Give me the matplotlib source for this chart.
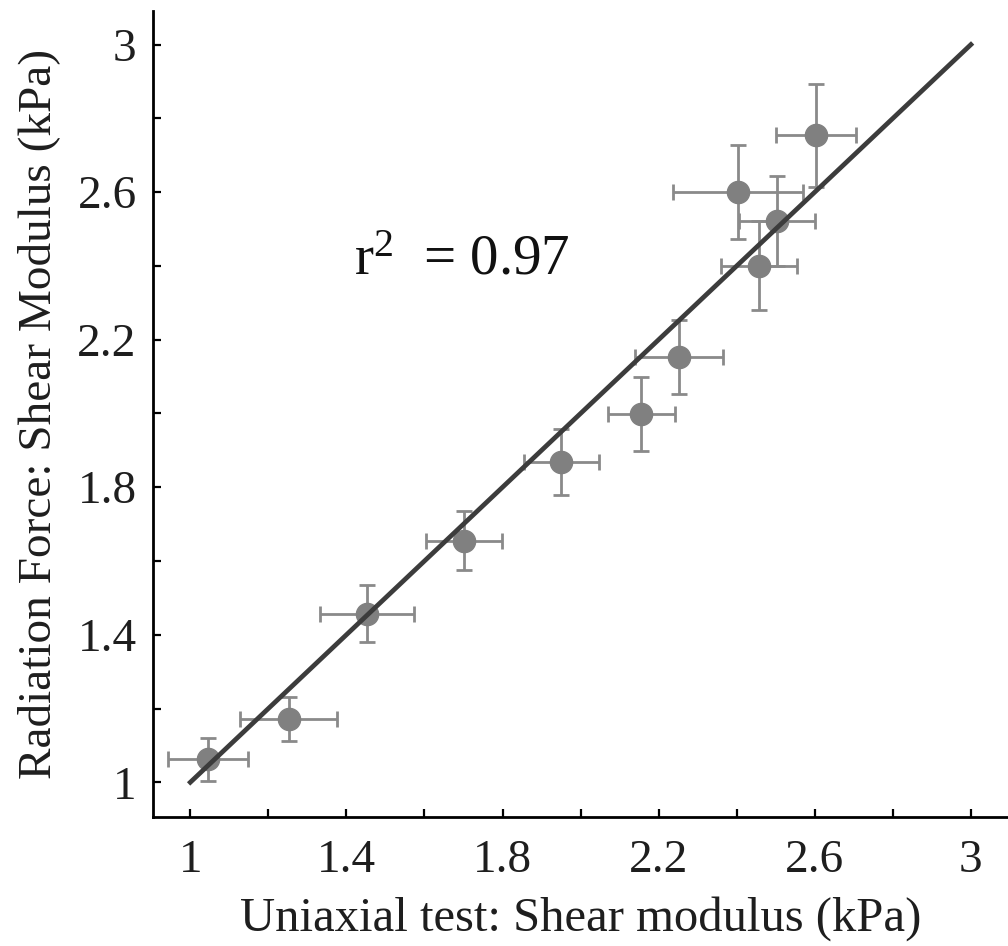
import matplotlib
matplotlib.use("Agg")
import matplotlib.pyplot as plt
import numpy as np

# Data
uniaxial = [1.045, 1.252, 1.453, 1.701, 1.951, 2.156, 2.252, 2.457, 2.503, 2.404, 2.603]
radiation = [1.062, 1.171, 1.457, 1.655, 1.868, 1.999, 2.152, 2.401, 2.522, 2.601, 2.754]
x_err = [0.102, 0.125, 0.121, 0.097, 0.095, 0.085, 0.113, 0.097, 0.098, 0.167, 0.102]
y_err = [0.058, 0.06, 0.078, 0.08, 0.09, 0.1, 0.1, 0.12, 0.123, 0.128, 0.14]
fit_x = [1.0, 3.0]
fit_y = [1.0, 3.0]
tick_vals = [1, 1.4, 1.8, 2.2, 2.6, 3]
tick_labels = ["1", "1.4", "1.8", "2.2", "2.6", "3"]
minor_vals = [1.2, 1.6, 2.0, 2.4, 2.8]

plt.rcParams['font.family'] = ['Liberation Serif', 'DejaVu Serif']
plt.rcParams['mathtext.fontset'] = 'custom'
plt.rcParams['mathtext.rm'] = 'Liberation Serif'
plt.rcParams['mathtext.it'] = 'Liberation Serif:italic'

fig = plt.figure(figsize=(10.08, 9.46), dpi=100)
ax = fig.add_axes([0.152, 0.136, 0.848, 0.852])

ax.errorbar(uniaxial, radiation, xerr=x_err, yerr=y_err, fmt='o',
            color='#808080', ecolor='#8a8a8a', elinewidth=2.0, capsize=6,
            capthick=2.0, markersize=16, zorder=2)
ax.plot(fit_x, fit_y, color='#3c3c3c', linewidth=3.4, zorder=3)

ax.set_xlim(0.905, 3.095)
ax.set_ylim(0.905, 3.09)

ax.set_xticks(tick_vals)
ax.set_xticklabels(tick_labels)
ax.set_yticks(tick_vals)
ax.set_yticklabels(tick_labels)
ax.set_xticks(minor_vals, minor=True)
ax.set_yticks(minor_vals, minor=True)

for which in ('major', 'minor'):
    ax.tick_params(axis='both', which=which, direction='in', length=6, width=1.6,
                   color='black')
ax.tick_params(axis='both', which='major', labelsize=34, labelcolor='#1e1e1e')
ax.tick_params(axis='x', which='major', pad=16)
ax.tick_params(axis='y', which='major', pad=12)

for s in ('top', 'right'):
    ax.spines[s].set_visible(False)
for s in ('left', 'bottom'):
    ax.spines[s].set_linewidth(2.0)

ax.set_xlabel("Uniaxial test: Shear modulus (kPa)", fontsize=35, color='#1e1e1e', labelpad=10)
ax.set_ylabel("Radiation Force: Shear Modulus (kPa)", fontsize=34, color='#1e1e1e', labelpad=12)

ax.text(1.42, 2.415, r"$\mathrm{r}^{2}$  = 0.97", fontsize=41, va='center', ha='left',
        color='#111111')

fig.savefig("out.png", dpi=100)
